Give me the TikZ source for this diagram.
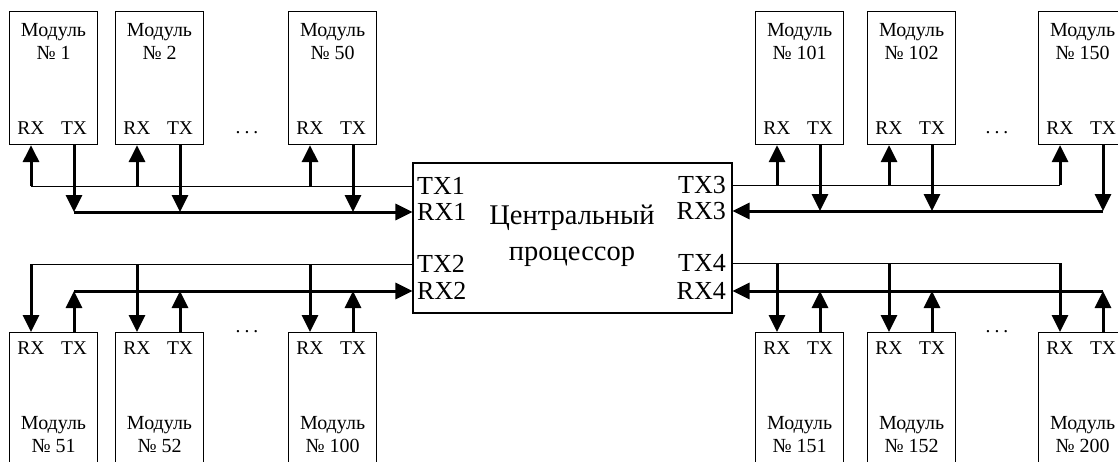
\documentclass[tikz,border=0pt]{standalone}
\usepackage{fontspec}
\setmainfont{Liberation Serif}
\usetikzlibrary{arrows.meta,positioning}
\newcommand{\ModulVerh}[3]{%
  \node[modul,anchor=north west] (#1) at (#2,11) {};
  \node[modtext] at ([yshift=-30.5pt]#1.north) {Модуль\\№~#3};
  \node[port] (rx#1) at ([xshift=22pt,yshift=17pt]#1.south west) {RX};
  \node[port] (tx#1) at ([xshift=65pt,yshift=17pt]#1.south west) {TX};
}
\newcommand{\ModulNiz}[3]{%
  \node[modul,anchor=north west] (#1) at (#2,332) {};
  \node[port] (rx#1) at ([xshift=22pt,yshift=-16pt]#1.north west) {RX};
  \node[port] (tx#1) at ([xshift=65pt,yshift=-16pt]#1.north west) {TX};
  \node[modtext] at ([yshift=-103pt]#1.north) {Модуль\\№~#3};
}

\begin{document}
\begin{tikzpicture}[x=1pt,y=-1pt,
    modul/.style={draw,line width=1.1pt,minimum width=88pt,minimum height=133pt,inner sep=0pt},
    modtext/.style={align=center,inner sep=0pt,font=\fontsize{20}{23}\selectfont},
    port/.style={inner sep=0pt,font=\fontsize{19.5}{23}\selectfont},
    cpuport/.style={inner sep=0pt,font=\fontsize{26}{30}\selectfont},
    shina/.style={line width=1pt},
    strelka/.style={line width=3pt,-{Triangle[length=17pt,width=16pt]}}]
    \useasboundingbox (0,0) rectangle (1118,461);

    % central processor
    \node[draw,line width=1.1pt,minimum width=319pt,minimum height=150pt,inner sep=0pt] (cpu) at (572.5,238) {};
    \node[align=center,inner sep=0pt,font=\fontsize{28.5}{36}\selectfont] (cpuname) at (572,236) {Центральный\\процессор};
    \node[cpuport,anchor=west] (ptx1) at (417,186) {TX1};
    \node[cpuport,anchor=west] (prx1) at (417,212) {RX1};
    \node[cpuport,anchor=west] (ptx2) at (417,264) {TX2};
    \node[cpuport,anchor=west] (prx2) at (417,291) {RX2};
    \node[cpuport,anchor=east] (ptx3) at (726,185) {TX3};
    \node[cpuport,anchor=east] (prx3) at (726,211) {RX3};
    \node[cpuport,anchor=east] (ptx4) at (726,263) {TX4};
    \node[cpuport,anchor=east] (prx4) at (726,291) {RX4};

    % modules
    \ModulVerh{m1}{9}{1}
    \ModulVerh{m2}{115}{2}
    \ModulVerh{m50}{288}{50}
    \ModulVerh{m101}{755}{101}
    \ModulVerh{m102}{867}{102}
    \ModulVerh{m150}{1038}{150}
    \ModulNiz{m51}{9}{51}
    \ModulNiz{m52}{115}{52}
    \ModulNiz{m100}{288}{100}
    \ModulNiz{m151}{755}{151}
    \ModulNiz{m152}{867}{152}
    \ModulNiz{m200}{1038}{200}

    \node[port] (dots1) at (247,133) {.\hspace{4pt}.\hspace{4pt}.};
    \node[port] (dots2) at (997,133) {.\hspace{4pt}.\hspace{4pt}.};
    \node[port] (dots3) at (247,332) {.\hspace{4pt}.\hspace{4pt}.};
    \node[port] (dots4) at (997,332) {.\hspace{4pt}.\hspace{4pt}.};

    % upper left
    \draw[shina] (cpu.west |- ptx1) -- (rxm1 |- ptx1);
    \foreach \m in {m1,m2,m50} {
      \draw[strelka] (rx\m |- ptx1) -- (rx\m |- \m.south);
      \draw[strelka] (tx\m |- \m.south) -- (tx\m |- prx1);
    }
    \draw[strelka] (txm1 |- prx1) -- (cpu.west |- prx1);

    % upper right
    \draw[shina] (cpu.east |- ptx3) -- (rxm150 |- ptx3);
    \foreach \m in {m101,m102,m150} {
      \draw[strelka] (rx\m |- ptx3) -- (rx\m |- \m.south);
      \draw[strelka] (tx\m |- \m.south) -- (tx\m |- prx3);
    }
    \draw[strelka] (txm150 |- prx3) -- (cpu.east |- prx3);

    % lower left
    \draw[shina] (cpu.west |- ptx2) -- (rxm51 |- ptx2);
    \foreach \m in {m51,m52,m100} {
      \draw[strelka] (rx\m |- ptx2) -- (rx\m |- \m.north);
      \draw[strelka] (tx\m |- \m.north) -- (tx\m |- prx2);
    }
    \draw[strelka] (txm51 |- prx2) -- (cpu.west |- prx2);

    % lower right
    \draw[shina] (cpu.east |- ptx4) -- (rxm200 |- ptx4);
    \foreach \m in {m151,m152,m200} {
      \draw[strelka] (rx\m |- ptx4) -- (rx\m |- \m.north);
      \draw[strelka] (tx\m |- \m.north) -- (tx\m |- prx4);
    }
    \draw[strelka] (txm200 |- prx4) -- (cpu.east |- prx4);
\end{tikzpicture}
\end{document}
